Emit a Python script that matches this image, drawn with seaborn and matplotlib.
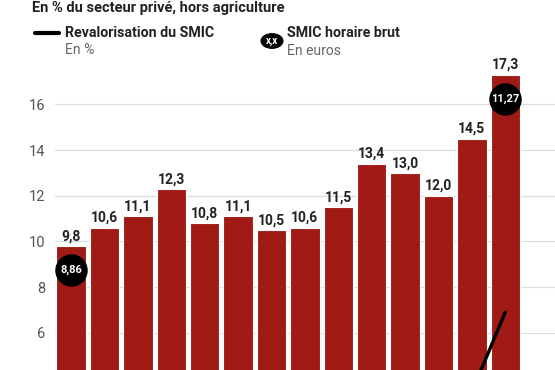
import numpy as np
import pandas as pd
import seaborn as sns
import matplotlib.pyplot as plt

years = [str(y) for y in range(2010, 2024)]
share_smic = [9.8, 10.6, 11.1, 12.3, 10.8, 11.1, 10.5, 10.6, 11.5, 13.4, 13.0, 12.0, 14.5, 17.3]
revalo = [0.5, 1.6, 2.0, 0.3, 1.1, 0.8, 0.6, 0.9, 1.2, 1.5, 1.2, 1.0, 3.4, 6.9]
smic_labels = {0: "8,86", 13: "11,27"}
yticks = [6, 8, 10, 12, 14, 16]

df = pd.DataFrame({"annee": years, "part": share_smic, "revalo": revalo})

sns.set_style("white")
plt.rcParams["font.family"] = ["Roboto", "DejaVu Sans"]

fig = plt.figure(figsize=(5.55, 3.7), dpi=100)
ax = fig.add_axes([55 / 555, 0, 500 / 555, 310 / 370])

red = "#a01b16"
sns.barplot(data=df, x="annee", y="part", color=red, width=0.88,
            edgecolor="white", linewidth=0.8, saturation=1, ax=ax, zorder=2)

ax.plot(np.arange(len(years)), df["revalo"], color="black", lw=2.4,
        solid_capstyle="round", zorder=4)

for i, v in enumerate(share_smic):
    ax.annotate(f"{v:.1f}".replace(".", ","), (i, v), xytext=(0, 2),
                textcoords="offset points", ha="center", va="bottom",
                fontsize=10, fontweight="bold", color="#222222",
                annotation_clip=False)

for i, lab in smic_labels.items():
    yv = share_smic[i] - 1.05
    ax.scatter([i], [yv], s=500, color="black", zorder=5, clip_on=False)
    ax.text(i, yv, lab, ha="center", va="center", color="white",
            fontsize=8, fontweight="bold", zorder=6)

ax.set_xlim(-0.479, 14.49)
ax.set_ylim(4.37, 17.94)
ax.set_yticks(yticks)
ax.set_yticklabels([str(t) for t in yticks])
ax.tick_params(axis="y", length=0, pad=7, labelsize=10.5, labelcolor="#555555")
ax.yaxis.grid(True, color="#dddddd", lw=0.9, zorder=0)
ax.set_axisbelow(True)
ax.set_xticks([])
ax.set_xlabel("")
ax.set_ylabel("")
for s in ax.spines.values():
    s.set_visible(False)

# header
fig.text(32 / 555, 1 - 8 / 370, "En % du secteur privé, hors agriculture",
         fontsize=10.5, fontweight="bold", color="#222222", va="center", ha="left")
fig.add_artist(plt.Line2D([35 / 555, 59 / 555], [1 - 33 / 370] * 2,
                          color="black", lw=3, solid_capstyle="round"))
fig.text(65 / 555, 1 - 33 / 370, "Revalorisation du SMIC", fontsize=10.2,
         fontweight="bold", color="#222222", va="center")
fig.text(65 / 555, 1 - 50 / 370, "En %", fontsize=10, color="#666666", va="center")
fig.add_artist(plt.Circle((272 / 555, 1 - 41 / 370), 0.0195, transform=fig.transFigure,
                          color="black"))
fig.text(272 / 555, 1 - 41 / 370, "x,x", fontsize=7, fontweight="bold",
         color="white", ha="center", va="center")
fig.text(287 / 555, 1 - 33 / 370, "SMIC horaire brut", fontsize=10.2,
         fontweight="bold", color="#222222", va="center")
fig.text(287 / 555, 1 - 51 / 370, "En euros", fontsize=10, color="#666666", va="center")

fig.savefig("out.png", dpi=100)
